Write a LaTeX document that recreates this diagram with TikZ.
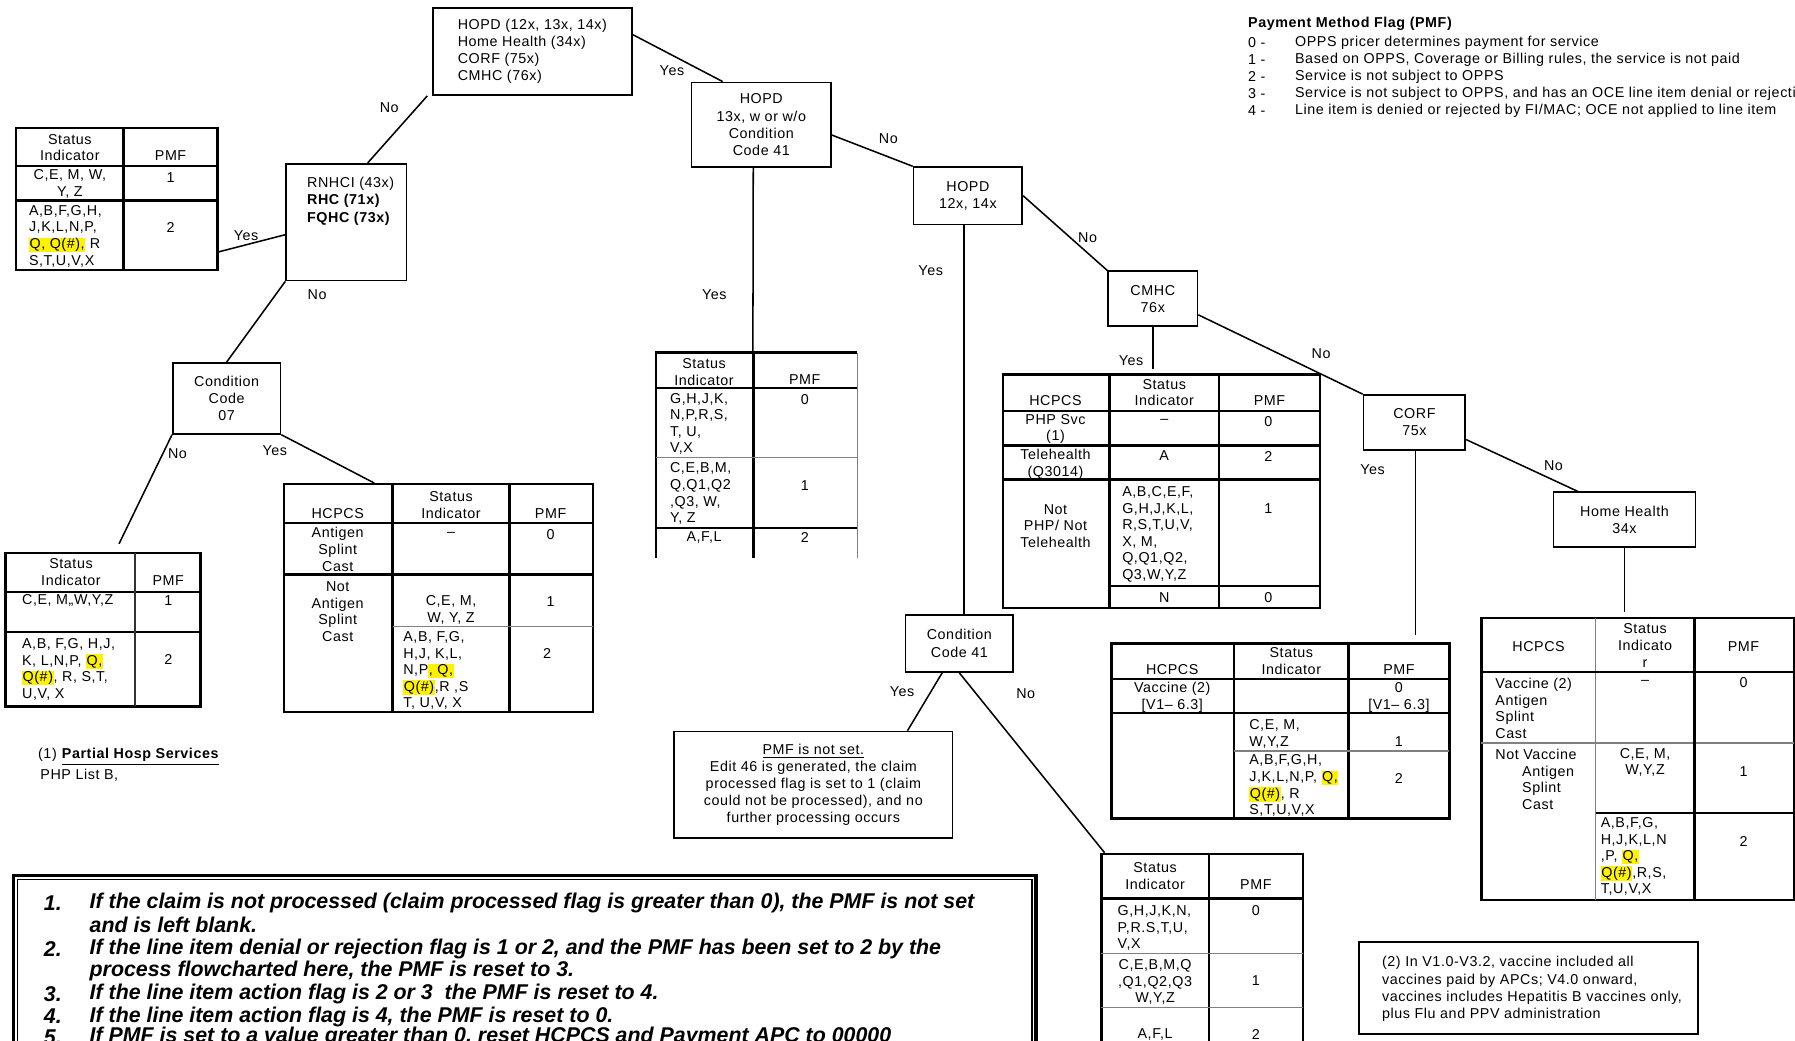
\documentclass[tikz,border=0pt]{standalone}
\usepackage{fontspec}
\setmainfont[LetterSpace=4]{Liberation Sans}
\newfontfamily\rulesfont{Liberation Sans}
\usetikzlibrary{fit, calc}
\newcommand{\cellfont}{\fontsize{7.5}{9}\selectfont}
\newcommand{\tabfont}{\fontsize{7.5}{8.7}\selectfont}
\newcommand{\hlq}[1]{{\setlength{\fboxsep}{0.3pt}\colorbox{yellow}{\vphantom{Q(}#1}}}
\tikzset{
  sz/.style 2 args={minimum width=#1*0.6pt, minimum height=#2*0.6pt},
  dbox/.style={draw=black, line width=0.9pt, inner sep=0pt, font=\cellfont, align=center},
  tframe/.style={draw=black, line width=1.3pt, inner sep=0pt},
  tthick/.style={draw=black, line width=1.3pt},
  tmid/.style={draw=black!80, line width=0.8pt},
  tthin/.style={draw=black!50, line width=0.6pt},
  conn/.style={draw=black, line width=0.8pt},
  cell/.style={font=\tabfont, inner sep=0pt, align=center, yshift=-0.5pt},
  lcell/.style={cell, align=left, anchor=west},
  lbl/.style={font=\cellfont, inner sep=0pt},
  rule/.style={anchor=west, inner sep=0pt, font=\rulesfont\fontsize{11.2}{13}\selectfont\bfseries\itshape},
}

\begin{document}
\begin{tikzpicture}[x=0.6pt, y=-0.6pt]
  \path[use as bounding box] (0,0) rectangle (1568,909);
  \clip (0,0) rectangle (1568,909);

  % decision boxes
  \node[dbox, sz={174}{76}, align=left] (top) at (465,45) {HOPD (12x, 13x, 14x)\\Home Health (34x)\\CORF (75x)\\CMHC (76x)};
  \node[dbox, sz={105}{102}] (rnhci) at (302.5,194) {};
  \node[lcell, font=\cellfont] (rnhcitxt) at (268,175) {RNHCI (43x)\\\textbf{RHC (71x)}\\\textbf{FQHC (73x)}};
  \node[dbox, sz={94}{62}] (cc07) at (198,348) {Condition\\Code\\07};
  \node[dbox, sz={122}{74}] (hopd2) at (665,109) {HOPD\\13x, w or w/o\\Condition\\Code 41};
  \node[dbox, sz={95}{50}] (hopd3) at (845.5,171) {HOPD\\12x, 14x};
  \node[dbox, sz={78}{48}] (cmhc) at (1007,261) {CMHC\\76x};
  \node[dbox, sz={89}{48}] (corf) at (1235.5,369) {CORF\\75x};
  \node[dbox, sz={124}{48}] (hh) at (1419,454) {Home Health\\34x};
  \node[dbox, sz={94}{50}] (cc41) at (838,562) {Condition\\Code 41};
  \node[dbox, sz={243}{93}] (notset) at (710.5,685.5) {\underline{PMF is not set.}\\Edit 46 is generated, the claim\\processed flag is set to 1 (claim\\could not be processed), and no\\further processing occurs};
  \node[dbox, sz={296}{80}] (vnote) at (1335,863) {};
  \node[lcell, font=\cellfont] (vnotetxt) at (1207,863) {(2) In V1.0-V3.2, vaccine included all\\vaccines paid by APCs; V4.0 onward,\\vaccines includes Hepatitis B vaccines only,\\plus Flu and PPV administration};

  % table: RNHCI yes
  \node[tframe, fit={(14,112)(190,236)}] (sitab1) {};
  \draw[tthick] (108,112) -- (108,236) (14,145) -- (190,145) (14,175) -- (190,175);
  \node[cell] (s1h1) at (61,128) {Status\\Indicator};
  \node[cell] (s1h2) at (149,135) {PMF};
  \node[cell] (s1a) at (61,160) {C,E, M, W,\\Y, Z};
  \node[cell] (s1b) at (149,154) {1};
  \node[lcell] (s1c) at (25,205.5) {A,B,F,G,H,\\J,K,L,N,P,\\\hlq{Q, Q(\#),} R\\S,T,U,V,X};
  \node[cell] (s1d) at (149,198) {2};

  % table: condition code 07 no
  \node[tframe, fit={(5,483)(175,617)}] (sitab2) {};
  \draw[tthick] (5,517) -- (175,517) (5,552) -- (175,552);
  \draw[tmid] (118,483) -- (118,617);
  \node[cell] (s2h1) at (62,499) {Status\\Indicator};
  \node[cell] (s2h2) at (147,506) {PMF};
  \node[lcell] (s2a) at (19,524) {C,E, M,,W,Y,Z};
  \node[cell] (s2b) at (147,524) {1};
  \node[lcell] (s2c) at (19,584) {A,B, F,G, H,J,\\K, L,N,P, \hlq{Q,}\\\hlq{Q(\#)}, R, S,T,\\U,V, X};
  \node[cell] (s2d) at (147,575) {2};

  % table: condition code 07 yes
  \node[tframe, fit={(248,423)(518,622)}] (hctab1) {};
  \draw[tthick] (343,423) -- (343,622) (445,423) -- (445,622) (248,457) -- (518,457) (248,502) -- (518,502);
  \draw[tthin] (343,547) -- (518,547);
  \node[cell] (h1h1) at (295,448) {HCPCS};
  \node[cell] (h1h2) at (394,440.5) {Status\\Indicator};
  \node[cell] (h1h3) at (481,448) {PMF};
  \node[cell] (h1a) at (295,479) {Antigen\\Splint\\Cast};
  \node[cell] (h1b) at (394,466) {--};
  \node[cell] (h1c) at (481,466) {0};
  \node[cell] (h1d) at (295,533.5) {Not\\Antigen\\Splint\\Cast};
  \node[cell] (h1e) at (394,532) {C,E, M,\\W, Y, Z};
  \node[cell] (h1f) at (481,525) {1};
  \node[lcell] (h1g) at (352,585) {A,B, F,G,\\H,J, K,L,\\N,P\hlq{, Q,}\\\hlq{Q(\#)},R ,S\\T, U,V, X};
  \node[cell] (h1h) at (478,570) {2};

  % table: HOPD 13x yes (open at the bottom)
  \node[inner sep=0pt, fit={(573,308)(749,487)}] (sitab3) {};
  \draw[tthick] (573,487) -- (573,308) -- (749,308) (658,308) -- (658,487) (573,339) -- (749,339) (573,461) -- (749,461);
  \draw[tthin] (749,308) -- (749,487) (573,400) -- (749,400);
  \node[cell] (s3h1) at (615,324) {Status\\Indicator};
  \node[cell] (s3h2) at (703,331) {PMF};
  \node[lcell] (s3a) at (585,369.5) {G,H,J,K,\\N,P,R,S,\\T, U,\\V,X};
  \node[cell] (s3b) at (703,348) {0};
  \node[lcell] (s3c) at (585,430.5) {C,E,B,M,\\Q,Q1,Q2\\,Q3, W,\\Y, Z};
  \node[cell] (s3d) at (703,423) {1};
  \node[cell] (s3e) at (615,469) {A,F,L};
  \node[cell] (s3f) at (703,469) {2};

  % table: CMHC yes
  \node[tframe, fit={(876,327)(1153,531)}] (hctab2) {};
  \draw[tthick] (969,327) -- (969,531) (1065,327) -- (1065,531) (876,359) -- (1153,359) (876,389) -- (1153,389) (876,419) -- (1153,419) (969,512) -- (1153,512);
  \node[cell] (h2h1) at (922,349.5) {HCPCS};
  \node[cell] (h2h2) at (1017,342) {Status\\Indicator};
  \node[cell] (h2h3) at (1109,349.5) {PMF};
  \node[cell] (h2a) at (922,374) {PHP Svc\\(1)};
  \node[cell] (h2b) at (1017,367) {--};
  \node[cell] (h2c) at (1108,367) {0};
  \node[cell] (h2d) at (922,404.5) {Telehealth\\(Q3014)};
  \node[cell] (h2e) at (1017,397.5) {A};
  \node[cell] (h2f) at (1108,397.5) {2};
  \node[cell] (h2g) at (922,458.5) {Not\\PHP/ Not\\Telehealth};
  \node[lcell] (h2h) at (980,466) {A,B,C,E,F,\\G,H,J,K,L,\\R,S,T,U,V,\\X, M,\\Q,Q1,Q2,\\Q3,W,Y,Z};
  \node[cell] (h2i) at (1108,443) {1};
  \node[cell] (h2j) at (1017,521) {N};
  \node[cell] (h2k) at (1108,521) {0};

  % table: CORF yes
  \node[tframe, fit={(971,562)(1266,715)}] (hctab3) {};
  \draw[tthick] (1078,562) -- (1078,715) (1178,562) -- (1178,715) (971,593) -- (1266,593) (971,623) -- (1266,623);
  \draw[tthin] (1078,656) -- (1266,656);
  \node[cell] (h3h1) at (1024,584) {HCPCS};
  \node[cell] (h3h2) at (1128,576.5) {Status\\Indicator};
  \node[cell] (h3h3) at (1222,584) {PMF};
  \node[cell] (h3a) at (1024,608.5) {Vaccine (2)\\{[}V1-- 6.3{]}};
  \node[cell] (h3b) at (1222,608.5) {0\\{[}V1-- 6.3{]}};
  \node[lcell] (h3c) at (1091,640.5) {C,E, M,\\W,Y,Z};
  \node[cell] (h3d) at (1222,647) {1};
  \node[lcell] (h3e) at (1091,685.5) {A,B,F,G,H,\\J,K,L,N,P, \hlq{Q,}\\\hlq{Q(\#)}, R\\S,T,U,V,X};
  \node[cell] (h3f) at (1222,679) {2};

  % table: condition code 41 no
  \node[tframe, fit={(962,746)(1138,930)}] (sitab4) {};
  \draw[tthick] (1056,746) -- (1056,930) (962,785) -- (1138,785);
  \draw[tthin] (962,833) -- (1138,833) (962,880) -- (1138,880);
  \node[cell] (s4h1) at (1009,764.5) {Status\\Indicator};
  \node[cell] (s4h2) at (1097,772) {PMF};
  \node[lcell] (s4a) at (976,810) {G,H,J,K,N,\\P,R.S,T,U,\\V,X};
  \node[cell] (s4b) at (1097,795) {0};
  \node[cell] (s4c) at (1009,857) {C,E,B,M,Q\\,Q1,Q2,Q3\\W,Y,Z};
  \node[cell] (s4d) at (1097,856) {1};
  \node[cell] (s4e) at (1009,903) {A,F,L};
  \node[cell] (s4f) at (1097,903) {2};

  % table: Home Health
  \node[tframe, fit={(1294,540)(1567,786)}] (hctab4) {};
  \draw[tthin] (1394,540) -- (1394,786) (1294,649) -- (1567,649);
  \draw[tthick] (1480,540) -- (1480,786) (1294,587) -- (1567,587) (1394,710) -- (1567,710);
  \node[cell] (h4h1) at (1344,564) {HCPCS};
  \node[cell] (h4h2) at (1437,563) {Status\\Indicato\\r};
  \node[cell] (h4h3) at (1523,564) {PMF};
  \node[lcell] (h4a) at (1306,618) {Vaccine (2)\\Antigen\\Splint\\Cast};
  \node[cell] (h4b) at (1437,595) {--};
  \node[cell] (h4c) at (1523,595) {0};
  \node[lcell] (h4d) at (1306,680) {Not Vaccine\\\hspace*{14pt}Antigen\\\hspace*{14pt}Splint\\\hspace*{14pt}Cast};
  \node[cell] (h4e) at (1437,665) {C,E, M,\\W,Y,Z};
  \node[cell] (h4f) at (1523,673) {1};
  \node[lcell] (h4g) at (1398,747.5) {A,B,F,G,\\H,J,K,L,N\\,P, \hlq{Q,}\\\hlq{Q(\#)},R,S,\\T,U,V,X};
  \node[cell] (h4h) at (1523,734) {2};

  % connectors
  \draw[conn] ($(top.north east)+(0,24)$) -- ($(hopd2.north west)+(28,0)$);
  \draw[conn] ($(top.south west)+(-4,0)$) -- ($(rnhci.north west)+(72,0)$);
  \draw[conn] ($(rnhci.west)+(0,11)$) -- ($(sitab1.east)+(0,46)$);
  \draw[conn] (rnhci.south west) -- (cc07.north);
  \coordinate (noend07) at (104,475);
  \draw[conn] (cc07.south west) -- (noend07);
  \draw[conn] (cc07.south east) -- ($(hctab1.north west)+(80,0)$);
  \draw[conn] ($(hopd2.east)+(0,9)$) -- (hopd3.north west);
  \draw[conn] ($(hopd2.south)+(-7,0)$) -- ($(sitab3.north west)+(85,0)$);
  \draw[conn] (hopd3.east) -- (cmhc.north west);
  \draw[conn] ($(hopd3.south)+(-3.5,0)$) -- ($(cc41.north)+(4,0)$);
  \coordinate (yesend76) at (1007,322);
  \draw[conn] (cmhc.south) -- (yesend76);
  \draw[conn] ($(cmhc.east)+(0,14)$) -- (corf.north west);
  \coordinate (yesend75) at (1236.5,555);
  \draw[conn] ($(corf.south)+(1,0)$) -- (yesend75);
  \draw[conn] ($(corf.east)+(0,15)$) -- ($(hh.north west)+(22,0)$);
  \coordinate (hhend) at (1419,535);
  \draw[conn] (hh.south) -- (hhend);
  \draw[conn] ($(cc41.south)+(-15,0)$) -- ($(notset.north east)+(-40,0)$);
  \draw[conn] (cc41.south) -- ($(sitab4.north west)+(4,0)$);

  % yes / no labels
  \foreach \x/\y/\t [count=\i] in {587/62/Yes, 340/94/No, 215/206/Yes, 277/257/No, 155/396/No,
      240/394/Yes, 776/121/No, 624/257/Yes, 950/208/No, 813/236/Yes, 988/315/Yes,
      1154/309/No, 1199/410/Yes, 1357/407/No, 788/604/Yes, 896/606/No}
    \node[lbl] (yn\i) at (\x,\y) {\t};

  % legend
  \node[lbl, anchor=west] (pmfttl) at (1090,21) {\textbf{Payment Method Flag (PMF)}};
  \foreach \n/\t [count=\i from 0] in {0/{OPPS pricer determines payment for service},
      1/{Based on OPPS, Coverage or Billing rules, the service is not paid},
      2/{Service is not subject to OPPS},
      3/{Service is not subject to OPPS, and has an OCE line item denial or rejection},
      4/{Line item is denied or rejected by FI/MAC; OCE not applied to line item}}{
    \node[lbl, anchor=west] (pmfn\i) at (1090,37+15*\i) {\n\ -};
    \node[lbl, anchor=west] (pmft\i) at (1131,37+15*\i) {\t};
  }

  % footnote (1)
  \node[lbl, anchor=west] (fn1) at (33,661) {(1)\ \textbf{\underline{Partial Hosp Services}}};
  \node[lbl, anchor=west] (fn1b) at (35,677) {PHP List B,};

  % rules box
  \node[draw=black, line width=1.8pt, inner sep=0pt, fit={(12,765)(905,940)}] (rules) {};
  \draw[line width=0.7pt] ($(rules.north west)+(5,5)$) rectangle ($(rules.south east)+(-5,-5)$);
  \foreach \y/\n/\t [count=\i] in {789/1./{If the claim is not processed (claim processed flag is greater than 0), the PMF is not set},
      808//{and is left blank.},
      829/2./{If the line item denial or rejection flag is 1 or 2, and the PMF has been set to 2 by the},
      848//{process flowcharted here, the PMF is reset to 3.},
      868/3./{If the line item action flag is 2 or 3\ \ the PMF is reset to 4.},
      888/4./{If the line item action flag is 4, the PMF is reset to 0.},
      906/5./{If PMF is set to a value greater than 0, reset HCPCS and Payment APC to 00000}}{
    \node[rule] (rn\i) at (38,\y) {\n};
    \node[rule] (rt\i) at (78,\y) {\t};
  }
\end{tikzpicture}
\end{document}
